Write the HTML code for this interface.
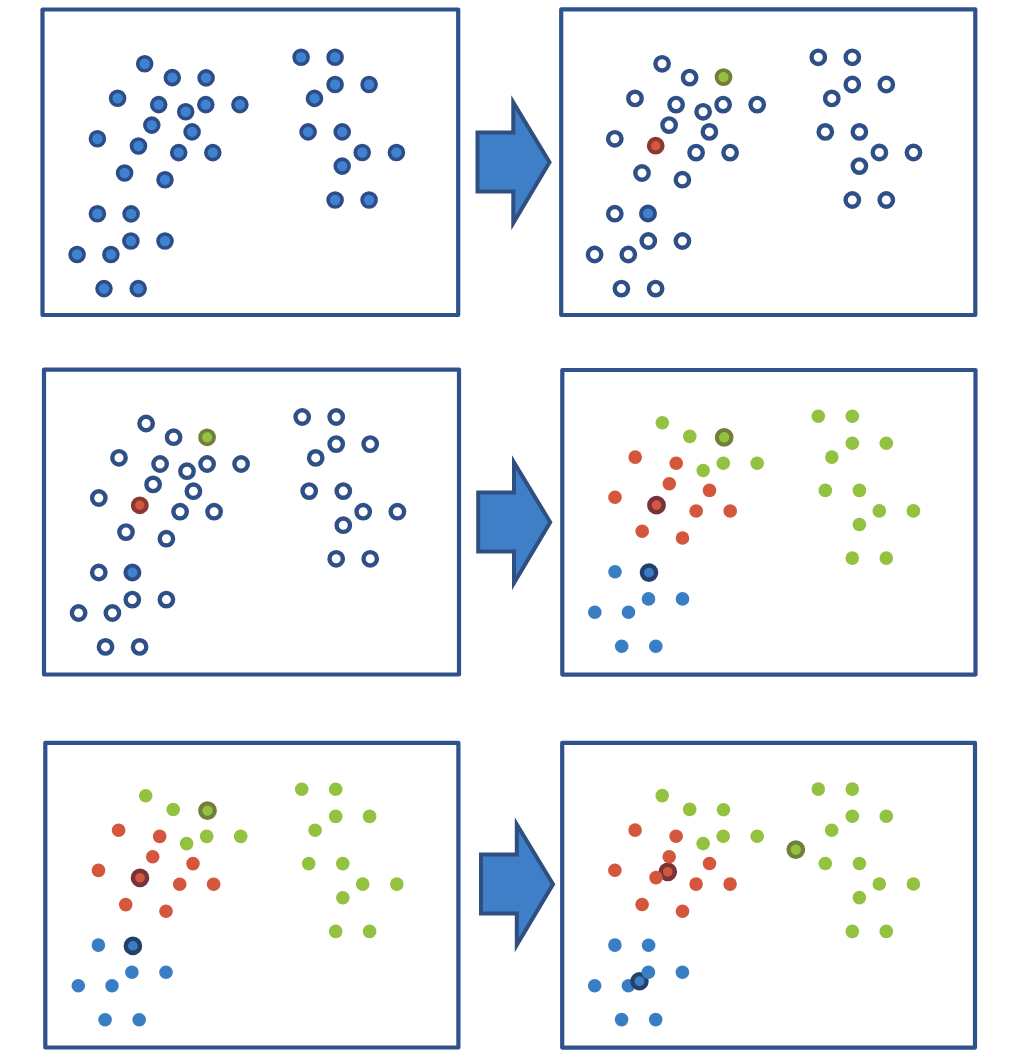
<!DOCTYPE html>
<html><head><meta charset="utf-8"><style>
html,body{margin:0;padding:0;background:#fff;}
body{width:1020px;height:1060px;overflow:hidden;font-family:"Liberation Sans",sans-serif;}
svg{display:block;}
</style></head><body>
<svg width="1020" height="1060" viewBox="0 0 1020 1060">
<g>
<rect x="42.5" y="9.5" width="415.7" height="305.5" fill="none" stroke="#30528C" stroke-width="4.2" stroke-linejoin="round"/>
<rect x="561.2" y="9.4" width="414.1" height="305.6" fill="none" stroke="#30528C" stroke-width="4.2" stroke-linejoin="round"/>
<rect x="44" y="369.6" width="415.0" height="304.9" fill="none" stroke="#30528C" stroke-width="4.2" stroke-linejoin="round"/>
<rect x="562.3" y="370" width="413.2" height="304.6" fill="none" stroke="#30528C" stroke-width="4.2" stroke-linejoin="round"/>
<rect x="45.3" y="742.8" width="413.1" height="304.7" fill="none" stroke="#30528C" stroke-width="4.2" stroke-linejoin="round"/>
<rect x="562.2" y="742.8" width="412.8" height="304.8" fill="none" stroke="#30528C" stroke-width="4.2" stroke-linejoin="round"/>
<path d="M477.5,132.6 L513.3,132.6 L513.3,102.5 L549.5,162.2 L513.3,223.0 L513.3,191.5 L477.5,191.5 Z" fill="#3F7FC8" stroke="#2F4F80" stroke-width="4" stroke-linejoin="miter"/>
<path d="M478.2,492.6 L514.0,492.6 L514.0,462.5 L550.2,522.2 L514.0,583.0 L514.0,551.5 L478.2,551.5 Z" fill="#3F7FC8" stroke="#2F4F80" stroke-width="4" stroke-linejoin="miter"/>
<path d="M481.0,854.6 L516.8,854.6 L516.8,824.5 L553.0,884.2 L516.8,945.0 L516.8,913.5 L481.0,913.5 Z" fill="#3F7FC8" stroke="#2F4F80" stroke-width="4" stroke-linejoin="miter"/>
<circle cx="144.7" cy="63.8" r="7.0" fill="#3F82CF" stroke="#2E4D88" stroke-width="3.6"/>
<circle cx="172.3" cy="77.6" r="7.0" fill="#3F82CF" stroke="#2E4D88" stroke-width="3.6"/>
<circle cx="206.1" cy="77.9" r="7.0" fill="#3F82CF" stroke="#2E4D88" stroke-width="3.6"/>
<circle cx="117.6" cy="98.3" r="7.0" fill="#3F82CF" stroke="#2E4D88" stroke-width="3.6"/>
<circle cx="158.7" cy="104.6" r="7.0" fill="#3F82CF" stroke="#2E4D88" stroke-width="3.6"/>
<circle cx="185.7" cy="111.8" r="7.0" fill="#3F82CF" stroke="#2E4D88" stroke-width="3.6"/>
<circle cx="205.8" cy="104.6" r="7.0" fill="#3F82CF" stroke="#2E4D88" stroke-width="3.6"/>
<circle cx="239.9" cy="104.6" r="7.0" fill="#3F82CF" stroke="#2E4D88" stroke-width="3.6"/>
<circle cx="151.8" cy="125.1" r="7.0" fill="#3F82CF" stroke="#2E4D88" stroke-width="3.6"/>
<circle cx="192.1" cy="131.9" r="7.0" fill="#3F82CF" stroke="#2E4D88" stroke-width="3.6"/>
<circle cx="97.4" cy="138.7" r="7.0" fill="#3F82CF" stroke="#2E4D88" stroke-width="3.6"/>
<circle cx="138.5" cy="146.0" r="7.0" fill="#3F82CF" stroke="#2E4D88" stroke-width="3.6"/>
<circle cx="178.7" cy="152.6" r="7.0" fill="#3F82CF" stroke="#2E4D88" stroke-width="3.6"/>
<circle cx="212.8" cy="152.6" r="7.0" fill="#3F82CF" stroke="#2E4D88" stroke-width="3.6"/>
<circle cx="124.6" cy="173.0" r="7.0" fill="#3F82CF" stroke="#2E4D88" stroke-width="3.6"/>
<circle cx="165.0" cy="179.7" r="7.0" fill="#3F82CF" stroke="#2E4D88" stroke-width="3.6"/>
<circle cx="97.4" cy="213.7" r="7.0" fill="#3F82CF" stroke="#2E4D88" stroke-width="3.6"/>
<circle cx="131.1" cy="213.9" r="7.0" fill="#3F82CF" stroke="#2E4D88" stroke-width="3.6"/>
<circle cx="130.9" cy="241.0" r="7.0" fill="#3F82CF" stroke="#2E4D88" stroke-width="3.6"/>
<circle cx="165.0" cy="241.0" r="7.0" fill="#3F82CF" stroke="#2E4D88" stroke-width="3.6"/>
<circle cx="77.1" cy="254.5" r="7.0" fill="#3F82CF" stroke="#2E4D88" stroke-width="3.6"/>
<circle cx="110.9" cy="254.5" r="7.0" fill="#3F82CF" stroke="#2E4D88" stroke-width="3.6"/>
<circle cx="104.0" cy="288.6" r="7.0" fill="#3F82CF" stroke="#2E4D88" stroke-width="3.6"/>
<circle cx="138.2" cy="288.6" r="7.0" fill="#3F82CF" stroke="#2E4D88" stroke-width="3.6"/>
<circle cx="301.1" cy="57.3" r="7.0" fill="#3F82CF" stroke="#2E4D88" stroke-width="3.6"/>
<circle cx="335.1" cy="57.3" r="7.0" fill="#3F82CF" stroke="#2E4D88" stroke-width="3.6"/>
<circle cx="335.1" cy="84.5" r="7.0" fill="#3F82CF" stroke="#2E4D88" stroke-width="3.6"/>
<circle cx="369.1" cy="84.5" r="7.0" fill="#3F82CF" stroke="#2E4D88" stroke-width="3.6"/>
<circle cx="314.5" cy="98.4" r="7.0" fill="#3F82CF" stroke="#2E4D88" stroke-width="3.6"/>
<circle cx="308.1" cy="131.9" r="7.0" fill="#3F82CF" stroke="#2E4D88" stroke-width="3.6"/>
<circle cx="342.2" cy="131.9" r="7.0" fill="#3F82CF" stroke="#2E4D88" stroke-width="3.6"/>
<circle cx="362.2" cy="152.5" r="7.0" fill="#3F82CF" stroke="#2E4D88" stroke-width="3.6"/>
<circle cx="396.4" cy="152.5" r="7.0" fill="#3F82CF" stroke="#2E4D88" stroke-width="3.6"/>
<circle cx="342.2" cy="166.1" r="7.0" fill="#3F82CF" stroke="#2E4D88" stroke-width="3.6"/>
<circle cx="335.1" cy="200.0" r="7.0" fill="#3F82CF" stroke="#2E4D88" stroke-width="3.6"/>
<circle cx="369.1" cy="200.0" r="7.0" fill="#3F82CF" stroke="#2E4D88" stroke-width="3.6"/>
<circle cx="662.1" cy="63.8" r="6.7" fill="none" stroke="#2F5086" stroke-width="4.4"/>
<circle cx="689.6" cy="77.6" r="6.7" fill="none" stroke="#2F5086" stroke-width="4.4"/>
<circle cx="635.0" cy="98.4" r="6.7" fill="none" stroke="#2F5086" stroke-width="4.4"/>
<circle cx="676.1" cy="104.6" r="6.7" fill="none" stroke="#2F5086" stroke-width="4.4"/>
<circle cx="703.1" cy="111.8" r="6.7" fill="none" stroke="#2F5086" stroke-width="4.4"/>
<circle cx="723.1" cy="104.6" r="6.7" fill="none" stroke="#2F5086" stroke-width="4.4"/>
<circle cx="757.2" cy="104.6" r="6.7" fill="none" stroke="#2F5086" stroke-width="4.4"/>
<circle cx="669.1" cy="125.1" r="6.7" fill="none" stroke="#2F5086" stroke-width="4.4"/>
<circle cx="709.4" cy="131.9" r="6.7" fill="none" stroke="#2F5086" stroke-width="4.4"/>
<circle cx="614.8" cy="138.8" r="6.7" fill="none" stroke="#2F5086" stroke-width="4.4"/>
<circle cx="696.1" cy="152.6" r="6.7" fill="none" stroke="#2F5086" stroke-width="4.4"/>
<circle cx="730.1" cy="152.6" r="6.7" fill="none" stroke="#2F5086" stroke-width="4.4"/>
<circle cx="642.0" cy="173.0" r="6.7" fill="none" stroke="#2F5086" stroke-width="4.4"/>
<circle cx="682.4" cy="179.7" r="6.7" fill="none" stroke="#2F5086" stroke-width="4.4"/>
<circle cx="614.8" cy="213.7" r="6.7" fill="none" stroke="#2F5086" stroke-width="4.4"/>
<circle cx="648.3" cy="241.0" r="6.7" fill="none" stroke="#2F5086" stroke-width="4.4"/>
<circle cx="682.4" cy="241.0" r="6.7" fill="none" stroke="#2F5086" stroke-width="4.4"/>
<circle cx="594.6" cy="254.5" r="6.7" fill="none" stroke="#2F5086" stroke-width="4.4"/>
<circle cx="628.3" cy="254.5" r="6.7" fill="none" stroke="#2F5086" stroke-width="4.4"/>
<circle cx="621.4" cy="288.6" r="6.7" fill="none" stroke="#2F5086" stroke-width="4.4"/>
<circle cx="655.6" cy="288.6" r="6.7" fill="none" stroke="#2F5086" stroke-width="4.4"/>
<circle cx="818.3" cy="57.3" r="6.7" fill="none" stroke="#2F5086" stroke-width="4.4"/>
<circle cx="852.3" cy="57.3" r="6.7" fill="none" stroke="#2F5086" stroke-width="4.4"/>
<circle cx="852.3" cy="84.5" r="6.7" fill="none" stroke="#2F5086" stroke-width="4.4"/>
<circle cx="886.3" cy="84.5" r="6.7" fill="none" stroke="#2F5086" stroke-width="4.4"/>
<circle cx="831.8" cy="98.4" r="6.7" fill="none" stroke="#2F5086" stroke-width="4.4"/>
<circle cx="825.3" cy="131.9" r="6.7" fill="none" stroke="#2F5086" stroke-width="4.4"/>
<circle cx="859.4" cy="131.9" r="6.7" fill="none" stroke="#2F5086" stroke-width="4.4"/>
<circle cx="879.4" cy="152.5" r="6.7" fill="none" stroke="#2F5086" stroke-width="4.4"/>
<circle cx="913.5" cy="152.5" r="6.7" fill="none" stroke="#2F5086" stroke-width="4.4"/>
<circle cx="859.4" cy="166.1" r="6.7" fill="none" stroke="#2F5086" stroke-width="4.4"/>
<circle cx="852.3" cy="200.0" r="6.7" fill="none" stroke="#2F5086" stroke-width="4.4"/>
<circle cx="886.3" cy="200.0" r="6.7" fill="none" stroke="#2F5086" stroke-width="4.4"/>
<circle cx="723.5" cy="77.1" r="7.0" fill="#92C240" stroke="#727F3A" stroke-width="3.8"/>
<circle cx="655.7" cy="145.7" r="6.8" fill="#D4573D" stroke="#8A3832" stroke-width="4.2"/>
<circle cx="648.0" cy="213.5" r="7.0" fill="#3F82CF" stroke="#2E4D88" stroke-width="4.0"/>
<circle cx="146.1" cy="423.5" r="6.7" fill="none" stroke="#2F5086" stroke-width="4.4"/>
<circle cx="173.6" cy="437.2" r="6.7" fill="none" stroke="#2F5086" stroke-width="4.4"/>
<circle cx="119.0" cy="457.8" r="6.7" fill="none" stroke="#2F5086" stroke-width="4.4"/>
<circle cx="160.1" cy="464.0" r="6.7" fill="none" stroke="#2F5086" stroke-width="4.4"/>
<circle cx="187.0" cy="471.2" r="6.7" fill="none" stroke="#2F5086" stroke-width="4.4"/>
<circle cx="207.1" cy="464.0" r="6.7" fill="none" stroke="#2F5086" stroke-width="4.4"/>
<circle cx="241.1" cy="464.0" r="6.7" fill="none" stroke="#2F5086" stroke-width="4.4"/>
<circle cx="153.1" cy="484.4" r="6.7" fill="none" stroke="#2F5086" stroke-width="4.4"/>
<circle cx="193.4" cy="491.2" r="6.7" fill="none" stroke="#2F5086" stroke-width="4.4"/>
<circle cx="98.8" cy="498.0" r="6.7" fill="none" stroke="#2F5086" stroke-width="4.4"/>
<circle cx="180.1" cy="511.7" r="6.7" fill="none" stroke="#2F5086" stroke-width="4.4"/>
<circle cx="214.1" cy="511.7" r="6.7" fill="none" stroke="#2F5086" stroke-width="4.4"/>
<circle cx="126.0" cy="532.1" r="6.7" fill="none" stroke="#2F5086" stroke-width="4.4"/>
<circle cx="166.4" cy="538.7" r="6.7" fill="none" stroke="#2F5086" stroke-width="4.4"/>
<circle cx="98.8" cy="572.5" r="6.7" fill="none" stroke="#2F5086" stroke-width="4.4"/>
<circle cx="132.3" cy="599.6" r="6.7" fill="none" stroke="#2F5086" stroke-width="4.4"/>
<circle cx="166.4" cy="599.6" r="6.7" fill="none" stroke="#2F5086" stroke-width="4.4"/>
<circle cx="78.6" cy="613.0" r="6.7" fill="none" stroke="#2F5086" stroke-width="4.4"/>
<circle cx="112.4" cy="613.0" r="6.7" fill="none" stroke="#2F5086" stroke-width="4.4"/>
<circle cx="105.5" cy="646.9" r="6.7" fill="none" stroke="#2F5086" stroke-width="4.4"/>
<circle cx="139.6" cy="646.9" r="6.7" fill="none" stroke="#2F5086" stroke-width="4.4"/>
<circle cx="302.2" cy="417.0" r="6.7" fill="none" stroke="#2F5086" stroke-width="4.4"/>
<circle cx="336.2" cy="417.0" r="6.7" fill="none" stroke="#2F5086" stroke-width="4.4"/>
<circle cx="336.2" cy="444.1" r="6.7" fill="none" stroke="#2F5086" stroke-width="4.4"/>
<circle cx="370.2" cy="444.1" r="6.7" fill="none" stroke="#2F5086" stroke-width="4.4"/>
<circle cx="315.7" cy="457.9" r="6.7" fill="none" stroke="#2F5086" stroke-width="4.4"/>
<circle cx="309.2" cy="491.1" r="6.7" fill="none" stroke="#2F5086" stroke-width="4.4"/>
<circle cx="343.3" cy="491.1" r="6.7" fill="none" stroke="#2F5086" stroke-width="4.4"/>
<circle cx="363.2" cy="511.7" r="6.7" fill="none" stroke="#2F5086" stroke-width="4.4"/>
<circle cx="397.4" cy="511.7" r="6.7" fill="none" stroke="#2F5086" stroke-width="4.4"/>
<circle cx="343.3" cy="525.2" r="6.7" fill="none" stroke="#2F5086" stroke-width="4.4"/>
<circle cx="336.2" cy="558.8" r="6.7" fill="none" stroke="#2F5086" stroke-width="4.4"/>
<circle cx="370.2" cy="558.8" r="6.7" fill="none" stroke="#2F5086" stroke-width="4.4"/>
<circle cx="207.1" cy="437.3" r="7.0" fill="#92C240" stroke="#727F3A" stroke-width="3.8"/>
<circle cx="139.8" cy="505.3" r="6.8" fill="#D4573D" stroke="#8A3832" stroke-width="4.2"/>
<circle cx="132.4" cy="572.5" r="7.0" fill="#3F82CF" stroke="#2E4D88" stroke-width="4.0"/>
<circle cx="662.3" cy="422.7" r="6.8" fill="#92C240"/>
<circle cx="689.8" cy="436.4" r="6.8" fill="#92C240"/>
<circle cx="635.2" cy="457.1" r="6.8" fill="#D4573D"/>
<circle cx="676.2" cy="463.3" r="6.8" fill="#D4573D"/>
<circle cx="703.2" cy="470.5" r="6.8" fill="#92C240"/>
<circle cx="723.3" cy="463.3" r="6.8" fill="#92C240"/>
<circle cx="757.2" cy="463.3" r="6.8" fill="#92C240"/>
<circle cx="669.3" cy="483.7" r="6.8" fill="#D4573D"/>
<circle cx="709.5" cy="490.4" r="6.8" fill="#D4573D"/>
<circle cx="615.0" cy="497.2" r="6.8" fill="#D4573D"/>
<circle cx="696.2" cy="511.0" r="6.8" fill="#D4573D"/>
<circle cx="730.2" cy="511.0" r="6.8" fill="#D4573D"/>
<circle cx="642.2" cy="531.3" r="6.8" fill="#D4573D"/>
<circle cx="682.5" cy="538.0" r="6.8" fill="#D4573D"/>
<circle cx="615.0" cy="571.8" r="6.8" fill="#397EC4"/>
<circle cx="648.5" cy="598.9" r="6.8" fill="#397EC4"/>
<circle cx="682.5" cy="598.9" r="6.8" fill="#397EC4"/>
<circle cx="594.8" cy="612.3" r="6.8" fill="#397EC4"/>
<circle cx="628.5" cy="612.3" r="6.8" fill="#397EC4"/>
<circle cx="621.7" cy="646.2" r="6.8" fill="#397EC4"/>
<circle cx="655.8" cy="646.2" r="6.8" fill="#397EC4"/>
<circle cx="818.3" cy="416.2" r="6.8" fill="#92C240"/>
<circle cx="852.3" cy="416.2" r="6.8" fill="#92C240"/>
<circle cx="852.3" cy="443.3" r="6.8" fill="#92C240"/>
<circle cx="886.3" cy="443.3" r="6.8" fill="#92C240"/>
<circle cx="831.8" cy="457.1" r="6.8" fill="#92C240"/>
<circle cx="825.3" cy="490.4" r="6.8" fill="#92C240"/>
<circle cx="859.4" cy="490.4" r="6.8" fill="#92C240"/>
<circle cx="879.3" cy="510.9" r="6.8" fill="#92C240"/>
<circle cx="913.4" cy="510.9" r="6.8" fill="#92C240"/>
<circle cx="859.4" cy="524.5" r="6.8" fill="#92C240"/>
<circle cx="852.3" cy="558.1" r="6.8" fill="#92C240"/>
<circle cx="886.3" cy="558.1" r="6.8" fill="#92C240"/>
<circle cx="724.2" cy="437.3" r="7.3" fill="#92C240" stroke="#727F3A" stroke-width="4.2"/>
<circle cx="656.5" cy="505.1" r="7.1" fill="#D4573D" stroke="#76333A" stroke-width="4.5"/>
<circle cx="649.0" cy="572.6" r="7.1" fill="#397EC4" stroke="#263F68" stroke-width="4.4"/>
<circle cx="145.7" cy="795.7" r="6.8" fill="#92C240"/>
<circle cx="173.2" cy="809.5" r="6.8" fill="#92C240"/>
<circle cx="118.6" cy="830.2" r="6.8" fill="#D4573D"/>
<circle cx="159.7" cy="836.4" r="6.8" fill="#D4573D"/>
<circle cx="186.6" cy="843.6" r="6.8" fill="#92C240"/>
<circle cx="206.7" cy="836.4" r="6.8" fill="#92C240"/>
<circle cx="240.7" cy="836.4" r="6.8" fill="#92C240"/>
<circle cx="152.7" cy="856.8" r="6.8" fill="#D4573D"/>
<circle cx="193.0" cy="863.6" r="6.8" fill="#D4573D"/>
<circle cx="98.5" cy="870.4" r="6.8" fill="#D4573D"/>
<circle cx="179.7" cy="884.2" r="6.8" fill="#D4573D"/>
<circle cx="213.6" cy="884.2" r="6.8" fill="#D4573D"/>
<circle cx="125.7" cy="904.6" r="6.8" fill="#D4573D"/>
<circle cx="166.0" cy="911.2" r="6.8" fill="#D4573D"/>
<circle cx="98.4" cy="945.1" r="6.8" fill="#397EC4"/>
<circle cx="131.9" cy="972.3" r="6.8" fill="#397EC4"/>
<circle cx="166.0" cy="972.3" r="6.8" fill="#397EC4"/>
<circle cx="78.3" cy="985.7" r="6.8" fill="#397EC4"/>
<circle cx="112.0" cy="985.7" r="6.8" fill="#397EC4"/>
<circle cx="105.1" cy="1019.7" r="6.8" fill="#397EC4"/>
<circle cx="139.2" cy="1019.7" r="6.8" fill="#397EC4"/>
<circle cx="301.7" cy="789.2" r="6.8" fill="#92C240"/>
<circle cx="335.7" cy="789.2" r="6.8" fill="#92C240"/>
<circle cx="335.7" cy="816.4" r="6.8" fill="#92C240"/>
<circle cx="369.6" cy="816.4" r="6.8" fill="#92C240"/>
<circle cx="315.1" cy="830.2" r="6.8" fill="#92C240"/>
<circle cx="308.7" cy="863.6" r="6.8" fill="#92C240"/>
<circle cx="342.8" cy="863.6" r="6.8" fill="#92C240"/>
<circle cx="362.7" cy="884.1" r="6.8" fill="#92C240"/>
<circle cx="396.8" cy="884.1" r="6.8" fill="#92C240"/>
<circle cx="342.8" cy="897.7" r="6.8" fill="#92C240"/>
<circle cx="335.7" cy="931.4" r="6.8" fill="#92C240"/>
<circle cx="369.6" cy="931.4" r="6.8" fill="#92C240"/>
<circle cx="207.5" cy="810.6" r="7.3" fill="#92C240" stroke="#727F3A" stroke-width="4.2"/>
<circle cx="140.0" cy="877.8" r="7.1" fill="#D4573D" stroke="#76333A" stroke-width="4.5"/>
<circle cx="132.9" cy="945.9" r="7.1" fill="#397EC4" stroke="#263F68" stroke-width="4.4"/>
<circle cx="795.8" cy="849.6" r="7.3" fill="#92C240" stroke="#727F3A" stroke-width="4.2"/>
<circle cx="667.8" cy="871.8" r="7.1" fill="#D4573D" stroke="#76333A" stroke-width="4.5"/>
<circle cx="662.2" cy="795.6" r="6.8" fill="#92C240"/>
<circle cx="689.7" cy="809.4" r="6.8" fill="#92C240"/>
<circle cx="723.5" cy="809.7" r="6.8" fill="#92C240"/>
<circle cx="635.1" cy="830.1" r="6.8" fill="#D4573D"/>
<circle cx="676.1" cy="836.3" r="6.8" fill="#D4573D"/>
<circle cx="703.1" cy="843.5" r="6.8" fill="#92C240"/>
<circle cx="723.2" cy="836.3" r="6.8" fill="#92C240"/>
<circle cx="757.2" cy="836.3" r="6.8" fill="#92C240"/>
<circle cx="669.2" cy="856.7" r="6.8" fill="#D4573D"/>
<circle cx="709.5" cy="863.5" r="6.8" fill="#D4573D"/>
<circle cx="614.9" cy="870.3" r="6.8" fill="#D4573D"/>
<circle cx="656.0" cy="877.6" r="6.8" fill="#D4573D"/>
<circle cx="696.1" cy="884.1" r="6.8" fill="#D4573D"/>
<circle cx="730.1" cy="884.1" r="6.8" fill="#D4573D"/>
<circle cx="642.1" cy="904.5" r="6.8" fill="#D4573D"/>
<circle cx="682.5" cy="911.2" r="6.8" fill="#D4573D"/>
<circle cx="614.9" cy="945.1" r="6.8" fill="#397EC4"/>
<circle cx="648.6" cy="945.3" r="6.8" fill="#397EC4"/>
<circle cx="682.4" cy="972.2" r="6.8" fill="#397EC4"/>
<circle cx="594.7" cy="985.7" r="6.8" fill="#397EC4"/>
<circle cx="628.4" cy="985.7" r="6.8" fill="#397EC4"/>
<circle cx="621.6" cy="1019.6" r="6.8" fill="#397EC4"/>
<circle cx="655.7" cy="1019.6" r="6.8" fill="#397EC4"/>
<circle cx="818.3" cy="789.1" r="6.8" fill="#92C240"/>
<circle cx="852.3" cy="789.1" r="6.8" fill="#92C240"/>
<circle cx="852.3" cy="816.3" r="6.8" fill="#92C240"/>
<circle cx="886.3" cy="816.3" r="6.8" fill="#92C240"/>
<circle cx="831.7" cy="830.2" r="6.8" fill="#92C240"/>
<circle cx="825.3" cy="863.5" r="6.8" fill="#92C240"/>
<circle cx="859.4" cy="863.5" r="6.8" fill="#92C240"/>
<circle cx="879.3" cy="884.0" r="6.8" fill="#92C240"/>
<circle cx="913.4" cy="884.0" r="6.8" fill="#92C240"/>
<circle cx="859.4" cy="897.6" r="6.8" fill="#92C240"/>
<circle cx="852.3" cy="931.4" r="6.8" fill="#92C240"/>
<circle cx="886.3" cy="931.4" r="6.8" fill="#92C240"/>
<circle cx="639.5" cy="981.3" r="7.1" fill="#397EC4" stroke="#263F68" stroke-width="4.3"/>
<circle cx="648.4" cy="972.2" r="6.8" fill="#397EC4"/>
</g>
</svg>
</body></html>
